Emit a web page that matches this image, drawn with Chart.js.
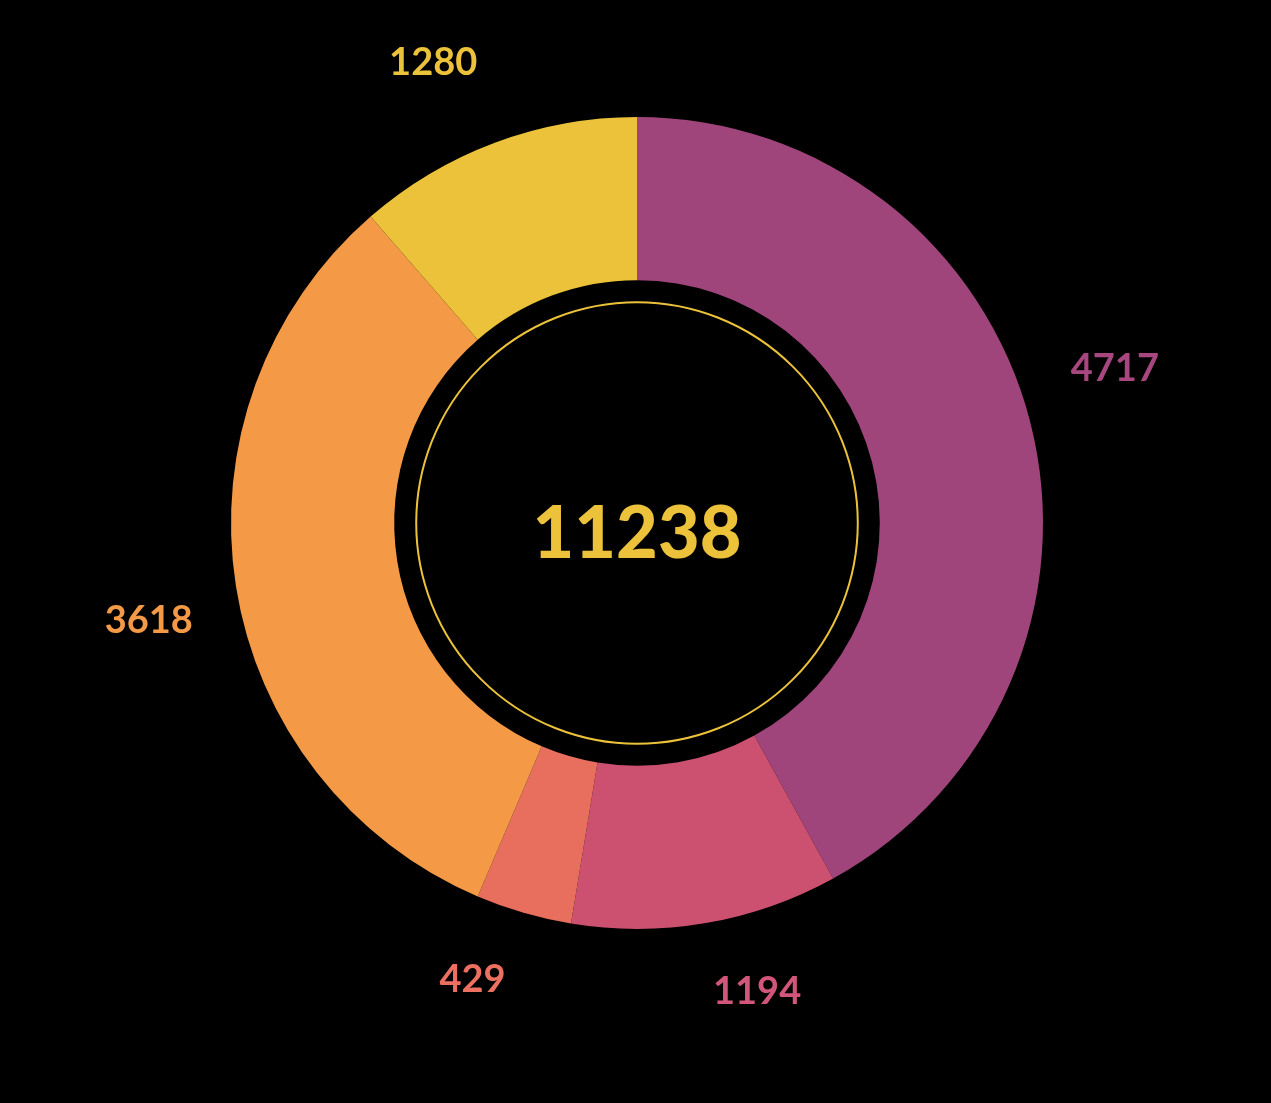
<!DOCTYPE html>
<html>
<head>
<meta charset="utf-8">
<script src="https://cdn.jsdelivr.net/npm/chart.js@4.4.1/dist/chart.umd.min.js"></script>
<style>
  html,body{margin:0;padding:0;background:#000;}
  #wrap{width:1271px;height:1103px;}
</style>
</head>
<body>
<div id="wrap"><canvas id="donut" width="1271" height="1103"></canvas></div>
<script>
// --- Data ---
const categories = ['A','B','C','D','E'];
const values = [4717, 1194, 429, 3618, 1280];
const colors = ['#A0457C','#CC5170','#E86E5E','#F49A46','#EBC23A'];
const labelColors = ['#A8477F','#D2567A','#EC7060','#F49A46','#EBC23A'];
const totalLabel = '11238';
// label placement tweaks (degrees off the slice middle, px beyond the rim)
const labelAngleNudge = [-3.4, -4.6, 3.6, -2.4, -3.4];
const labelGap = [96, 78, 79, 92, 97];

// --- Plugins: background, value labels, centre total + ring ---
const bgPlugin = {
  id:'bg',
  beforeDraw(chart){
    const c=chart.ctx;
    c.save(); c.fillStyle='#000'; c.fillRect(0,0,chart.width,chart.height); c.restore();
  }
};

const labelPlugin = {
  id:'outerLabels',
  afterDatasetsDraw(chart){
    const c=chart.ctx, meta=chart.getDatasetMeta(0);
    c.save();
    c.font='bold 38px Lato';
    c.textAlign='center'; c.textBaseline='middle';
    meta.data.forEach((arc,i)=>{
      const mid=(arc.startAngle+arc.endAngle)/2 + labelAngleNudge[i]*Math.PI/180;
      const r=arc.outerRadius+labelGap[i];
      c.fillStyle=labelColors[i];
      c.fillText(values[i], arc.x+Math.cos(mid)*r, arc.y+Math.sin(mid)*r);
    });
    // centre ring + total
    const a=meta.data[0];
    c.strokeStyle='#EBC23A'; c.lineWidth=2;
    c.beginPath(); c.arc(a.x,a.y,a.innerRadius-22,0,Math.PI*2); c.stroke();
    c.fillStyle='#EBC23A';
    c.font='900 72px Lato';
    c.fillText(totalLabel, a.x, a.y+12);
    c.restore();
  }
};

new Chart(document.getElementById('donut'),{
  type:'doughnut',
  data:{ labels:categories, datasets:[{ data:values, backgroundColor:colors, borderWidth:0, hoverOffset:0 }]},
  options:{
    responsive:false,
    animation:false,
    cutout:'59.8%',
    layout:{ padding:{ top:117, bottom:174, left:231, right:228 } },
    plugins:{ legend:{display:false}, tooltip:{enabled:false} }
  },
  plugins:[bgPlugin,labelPlugin]
});
</script>
</body>
</html>
